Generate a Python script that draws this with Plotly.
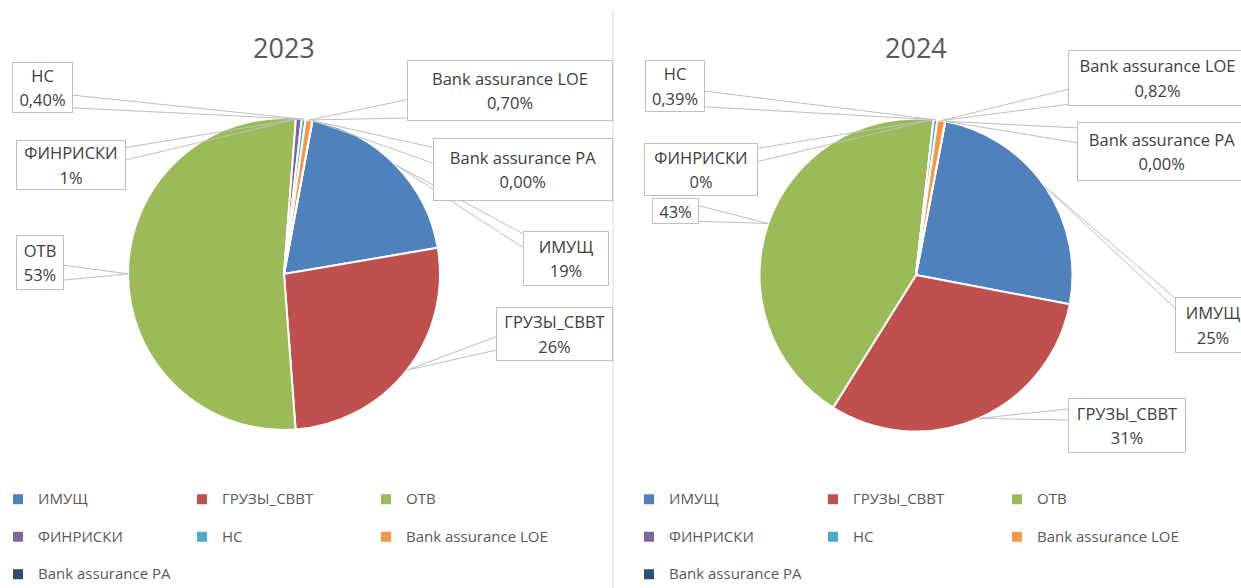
import math
import plotly.graph_objects as go

# ---------------- data ----------------
categories = ["ИМУЩ", "ГРУЗЫ_СВВТ", "ОТВ", "ФИНРИСКИ", "НС",
              "Bank assurance LOE", "Bank assurance PA"]
values_2023 = [19.4, 26.5, 52.4, 0.6, 0.40, 0.70, 0.0]
values_2024 = [25.0, 30.9, 42.9, 0.0, 0.39, 0.82, 0.0]
pct_labels_2023 = ["19%", "26%", "53%", "1%", "0,40%", "0,70%", "0,00%"]
pct_labels_2024 = ["25%", "31%", "43%", "0%", "0,39%", "0,82%", "0,00%"]
shown_names_2023 = ["ИМУЩ", "ГРУЗЫ_СВВТ", "ОТВ", "ФИНРИСКИ", "НС",
                    "Bank assurance LOE", "Bank assurance PA"]
shown_names_2024 = ["ИМУЩ", "ГРУЗЫ_СВВТ", "", "ФИНРИСКИ", "НС",
                    "Bank assurance LOE", "Bank assurance PA"]
years = ["2023", "2024"]
colors = ["#4F81BD", "#C0504D", "#9BBB59", "#8064A2", "#4BACC6", "#F79646", "#2C4D75"]

# ---------------- layout geometry (pixels) ----------------
W, H = 1241, 588
ML, MR = 50, 100
PW = W - ML - MR


def fx(px):
    return (px - ML) / PW


def fy(py):
    return 1 - py / H


# label boxes: (center x, center y, width, height, side of leader attach, f1, f2)
boxes_2023 = [
    (566, 258.5, 86, 55, "l", 0.05, 0.30),
    (554.5, 334, 117, 54, "l", 0.55, 0.80),
    (40, 262.5, 48, 55, "r", 0.55, 0.82),
    (71, 165, 110, 50, "r", 0.15, 0.40),
    (42.5, 87.5, 61, 51, "r", 0.65, 0.90),
    (510, 90.5, 206, 61, "l", 0.65, 0.95),
    (523, 169.5, 180, 63, "l", 0.15, 0.40),
]
boxes_2024 = [
    (1213, 325, 76, 56, "l", 0.02, 0.20),
    (1127, 425.5, 118, 55, "l", 0.20, 0.40),
    (675.5, 211, 47, 26, "r", 0.30, 0.90),
    (701, 169.5, 114, 53, "r", 0.10, 0.35),
    (675, 86, 60, 52, "r", 0.60, 0.90),
    (1157.5, 78, 179, 56, "l", 0.70, 0.97),
    (1162, 151.5, 170, 59, "l", 0.10, 0.35),
]

charts = [
    dict(year=years[0], values=values_2023, pcts=pct_labels_2023, names=shown_names_2023,
         cx=284, cy=274, r=156, rot=10.5, legend="legend", boxes=boxes_2023),
    dict(year=years[1], values=values_2024, pcts=pct_labels_2024, names=shown_names_2024,
         cx=916, cy=275, r=156.5, rot=10.8, legend="legend2", boxes=boxes_2024),
]

TXT = "#404040"
GREY = "#595959"
LINE = "#bfbfbf"
FONT = "Open Sans"

legend_labels = ['<span style="font-size:15px">%s</span><br>\u00a0' % c for c in categories]

fig = go.Figure()
annotations = []
shapes = []

for ch in charts:
    cx, cy, r = ch["cx"], ch["cy"], ch["r"]
    fig.add_trace(go.Pie(
        labels=legend_labels,
        values=ch["values"],
        sort=False,
        direction="clockwise",
        rotation=ch["rot"],
        marker=dict(colors=colors, line=dict(color="white", width=2)),
        textinfo="none",
        hoverinfo="label+percent",
        domain=dict(x=[fx(cx - r), fx(cx + r)], y=[fy(cy + r), fy(cy - r)]),
        legend=ch["legend"],
        legendgroup="g" + ch["year"],
        showlegend=True,
    ))

    total = sum(ch["values"])
    cum = 0.0
    for i, v in enumerate(ch["values"]):
        mid = math.radians(ch["rot"] + 360.0 * (cum + v / 2.0) / total)
        cum += v
        tx = cx + r * math.sin(mid)
        ty = cy - r * math.cos(mid)
        bx, by, bw, bh, side, f1, f2 = ch["boxes"][i]
        x0, x1 = bx - bw / 2, bx + bw / 2
        y0, y1 = by - bh / 2, by + bh / 2
        pts = []
        for f in (f1, f2):
            if side == "l":
                pts.append((x0, y0 + f * bh))
            elif side == "r":
                pts.append((x1, y0 + f * bh))
            elif side == "t":
                pts.append((x0 + f * bw, y0))
            else:
                pts.append((x0 + f * bw, y1))
        for (ax, ay) in pts:
            shapes.append(dict(type="line", xref="paper", yref="paper",
                               x0=fx(tx), y0=fy(ty), x1=fx(ax), y1=fy(ay),
                               line=dict(color=LINE, width=1)))
        name = ch["names"][i]
        pct = ch["pcts"][i]
        sp = '<span style="font-size:16.5px">%s</span>'
        text = (sp % name + "<br>" + sp % pct) if name else sp % pct
        annotations.append(dict(
            x=fx(bx), y=fy(by), xref="paper", yref="paper",
            xanchor="center", yanchor="middle", showarrow=False,
            text=text, align="center", valign="middle",
            width=bw - 2, height=bh - 2,
            bgcolor="white", bordercolor=LINE, borderwidth=1, borderpad=0,
            font=dict(family=FONT, size=19.2, color=TXT),
        ))

    annotations.append(dict(
        x=fx(cx), y=fy(47), xref="paper", yref="paper", xanchor="center", yanchor="middle",
        showarrow=False, text=ch["year"], font=dict(family=FONT, size=27, color=GREY)))

# divider between the two charts
shapes.append(dict(type="line", xref="paper", yref="paper",
                   x0=fx(613), x1=fx(613), y0=fy(10), y1=fy(588),
                   line=dict(color="#d9d9d9", width=1)))

legend_common = dict(
    orientation="h", yanchor="top", y=fy(484),
    font=dict(family=FONT, size=13.27, color=GREY),
    entrywidth=139, entrywidthmode="pixels", valign="top",
    bgcolor="rgba(0,0,0,0)", borderwidth=0,
    traceorder="normal",
)

fig.update_layout(
    width=W, height=H, autosize=False,
    margin=dict(l=ML, r=MR, t=0, b=0, autoexpand=False),
    paper_bgcolor="white", plot_bgcolor="white",
    font=dict(family=FONT, color=TXT),
    annotations=annotations,
    shapes=shapes,
    legend=dict(x=fx(-2), xanchor="left", **legend_common),
    legend2=dict(x=fx(1181), xanchor="right", **legend_common),
)

fig.write_html("out.html", config={"displayModeBar": False},
               post_script="document.body.style.margin='0px';")
